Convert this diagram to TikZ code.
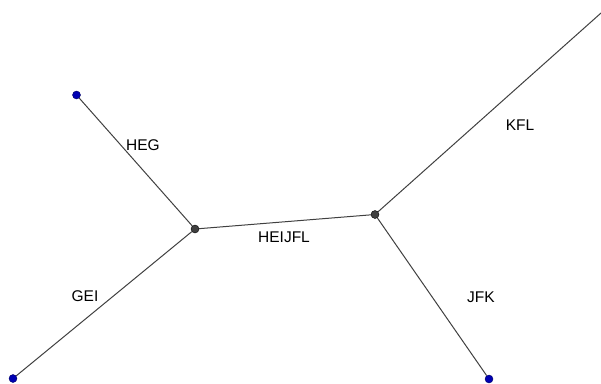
\documentclass[tikz,border=0pt]{standalone}
\usepackage{fontspec}
\setmainfont{Liberation Sans}
\begin{document}
\begin{tikzpicture}[x=1pt,y=-1pt,
  edge/.style={draw=black!75,line width=1pt},
  leaf/.style={circle,fill=blue!70!black,draw=blue!40!black,inner sep=0pt,minimum size=8pt},
  inner/.style={circle,fill=black!75,draw=black,inner sep=0pt,minimum size=8pt},
  lbl/.style={font=\fontsize{15.5}{17}\selectfont,text=black}]
\useasboundingbox (0,0) rectangle (601,383);
\node[leaf] (a) at (76.5,95) {};
\node[leaf] (b) at (13,378.5) {};
\node[leaf] (c) at (489,379) {};
\coordinate (d) at (610,5);
\node[inner] (p) at (195,229) {};
\node[inner] (q) at (375,214.5) {};
\draw[edge] (a) -- (p);
\draw[edge] (b) -- (p);
\draw[edge] (p) -- (q);
\draw[edge] (q) -- (c);
\draw[edge] (q) -- (d);
\node[lbl] (l1) at (143,145) {HEG};
\node[lbl] (l2) at (85,296) {GEI};
\node[lbl] (l3) at (284,237) {HEIJFL};
\node[lbl] (l4) at (520,125) {KFL};
\node[lbl] (l5) at (481,297) {JFK};
\end{tikzpicture}
\end{document}
